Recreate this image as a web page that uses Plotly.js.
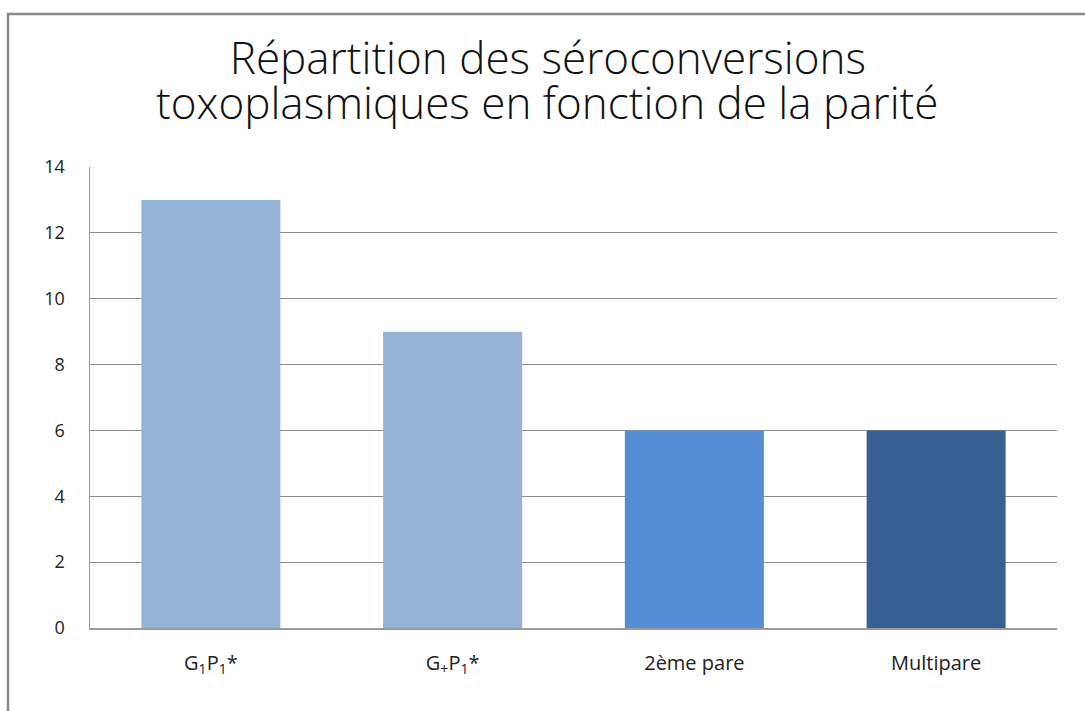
<!DOCTYPE html>
<html>
<head>
<meta charset="utf-8">
<script src="https://cdn.plot.ly/plotly-3.0.1.min.js"></script>
<style>html,body{margin:0;padding:0;background:#fff;}#chart{width:1085px;height:711px;}</style>
</head>
<body>
<div id="chart"></div>
<script>
const categories = ["G<sub>1</sub>P<sub>1</sub>*", "G<sub>+</sub>P<sub>1</sub>*", "2ème pare", "Multipare"];
const values = [13, 9, 6, 6];
const barColors = ["#95B3D7", "#95B3D7", "#558ED5", "#376092"];
const yTicks = [0, 2, 4, 6, 8, 10, 12, 14];
const titleLine1 = "Répartition des séroconversions";
const titleLine2 = "toxoplasmiques en fonction de la parité";

const titleFont = {family: "Open Sans, Liberation Sans, sans-serif", size: 44, color: "#111", weight: 300};

const trace = {
  type: "bar",
  x: categories,
  y: values,
  marker: {color: barColors},
  width: 0.575,
  hoverinfo: "x+y"
};

const layout = {
  width: 1085,
  height: 711,
  margin: {l: 90, r: 28, t: 167, b: 83},
  paper_bgcolor: "#ffffff",
  plot_bgcolor: "#ffffff",
  showlegend: false,
  font: {family: "Open Sans, Liberation Sans, sans-serif", color: "#222"},
  title: {
    text: titleLine1,
    font: titleFont,
    x: 0.505, xanchor: "center",
    y: 0.918, yanchor: "middle",
    yref: "container"
  },
  annotations: [{
    text: titleLine2,
    font: titleFont,
    xref: "paper", yref: "paper",
    x: 0.4736, xanchor: "center",
    y: 1.14, yanchor: "middle",
    showarrow: false
  }],
  xaxis: {
    showgrid: false,
    showline: true,
    linecolor: "#9a9a9a",
    linewidth: 1.5,
    ticks: "",
    tickfont: {size: 20, color: "#222"},
    ticklabelstandoff: 16
  },
  yaxis: {
    range: [0, 14],
    tickvals: yTicks,
    showgrid: true,
    gridcolor: "#8c8c8c",
    gridwidth: 1,
    showline: true,
    linecolor: "#9a9a9a",
    linewidth: 1.5,
    zeroline: false,
    ticks: "",
    tickfont: {size: 18, color: "#222"},
    ticklabelstandoff: 20
  },
  shapes: [{
    type: "rect", xref: "paper", yref: "paper",
    x0: -0.0848, x1: 1.1, y0: -0.3, y1: 1.3319,
    line: {color: "#888888", width: 2.5},
    fillcolor: "rgba(0,0,0,0)", layer: "below"
  }]
};

Plotly.newPlot("chart", [trace], layout, {displayModeBar: false, staticPlot: true});
</script>
</body>
</html>
